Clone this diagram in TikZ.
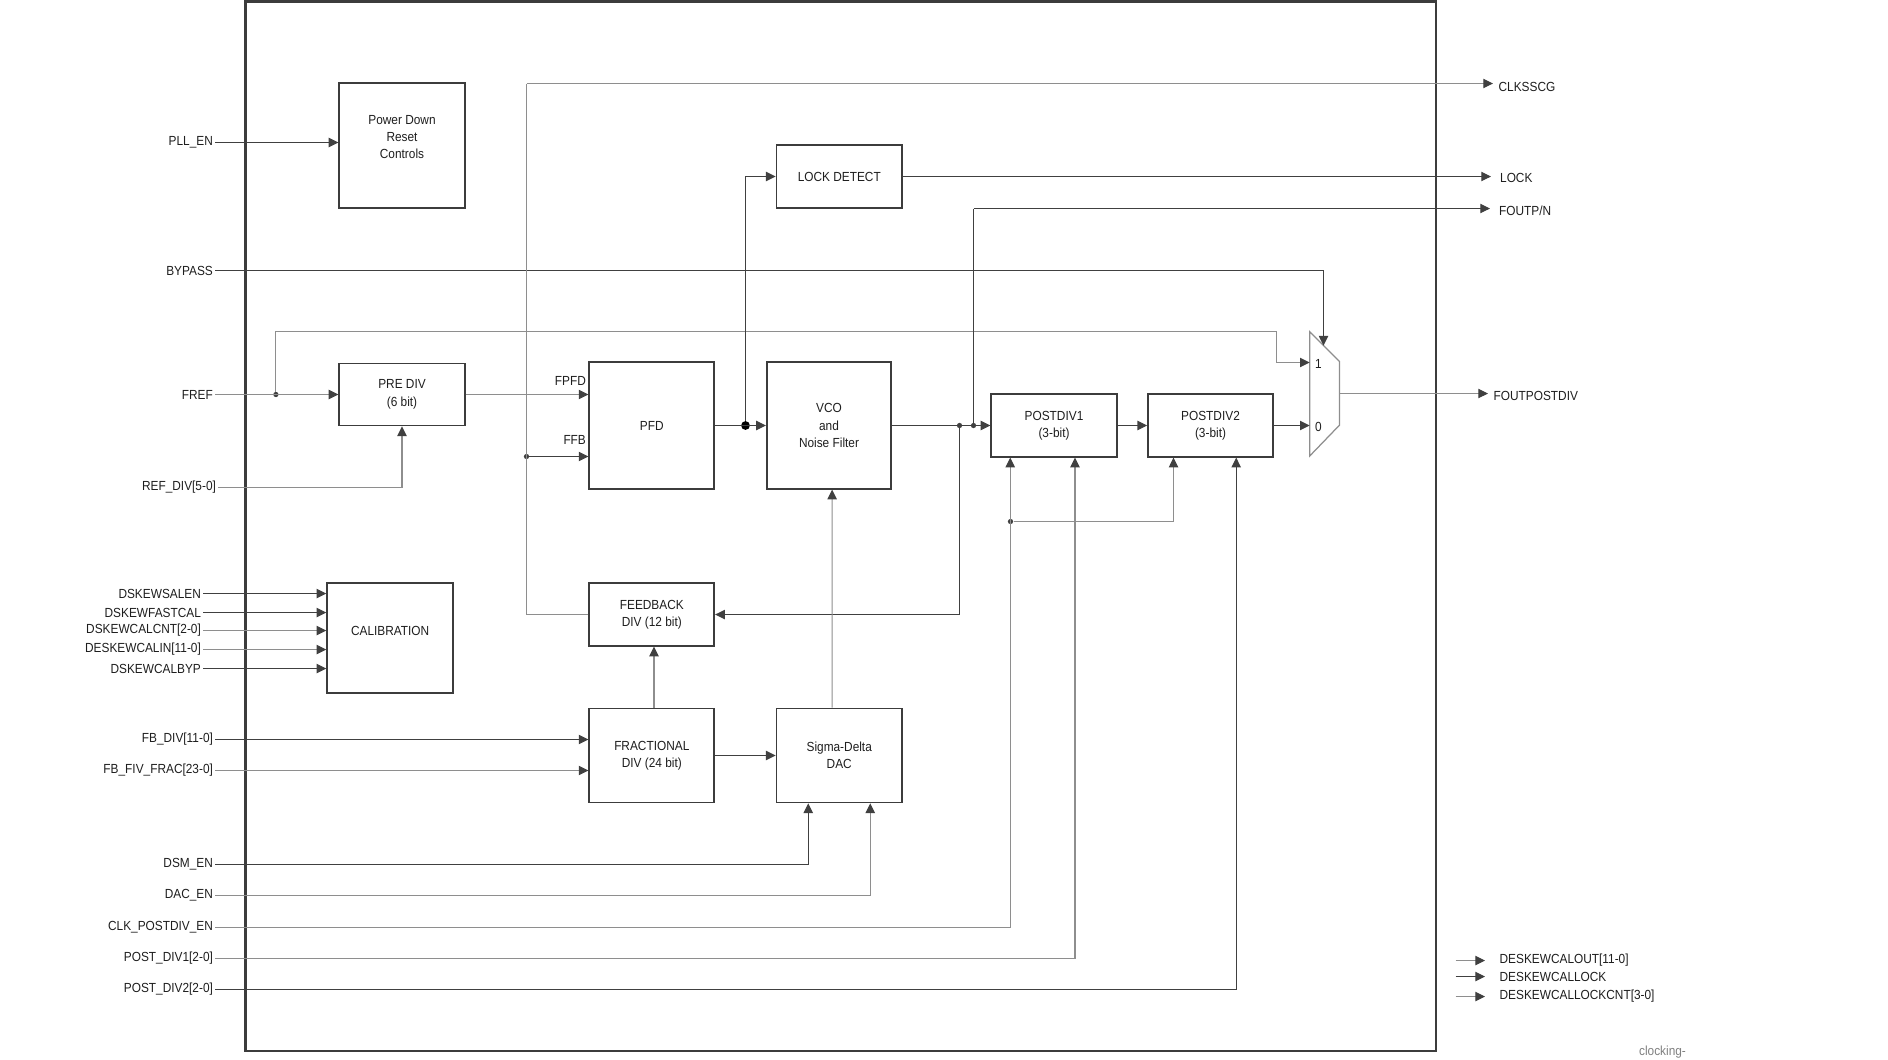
\documentclass[tikz,border=0pt]{standalone}
\usepackage{fontspec}
\setmainfont{Liberation Sans}[FakeStretch=0.9]
\usetikzlibrary{arrows.meta}
\definecolor{wiredk}{HTML}{404040}
\definecolor{wirelt}{HTML}{8E8E8E}
\definecolor{boxc}{HTML}{3C3C3C}
\definecolor{txtc}{HTML}{1E1E1E}
\tikzset{
  blk/.style={draw=boxc, line width=1pt, align=center, inner sep=0pt,
    font=\fontsize{7.5}{9.9}\selectfont, text=txtc},
  lbl/.style={font=\fontsize{7.5}{9.9}\selectfont, text=txtc, inner sep=1pt},
  outl/.style={lbl, inner xsep=3pt, anchor=west},
  wire/.style={draw=wiredk, line width=0.6pt},
  wirel/.style={draw=wirelt, line width=0.6pt},
  arr/.style={-{Triangle[length=5.5pt,width=5.3pt,color=wiredk]}},
  dot/.style={circle, fill=wiredk, inner sep=0pt, minimum size=3pt},
  bigdot/.style={circle, fill=black, inner sep=0pt, minimum size=5pt}
}
\begin{document}
\begin{tikzpicture}[x=0.02cm, y=-0.02cm]
\useasboundingbox (0,0) rectangle (1888,1059);
\draw[draw=boxc, line width=1.4pt] (245.5,1.5) rectangle (1436,1051); % outer frame

% blocks
\node[blk, minimum width=2.51cm, minimum height=2.49cm] (pwr) at (402,145.6) {};
\node[lbl, align=center] (pwrtxt) at ([yshift=0.17cm]pwr.center) {Power Down\\Reset\\Controls};
\node[blk, minimum width=2.51cm, minimum height=1.24cm] (prediv) at (402,394.5) {PRE DIV\\(6 bit)};
\node[blk, minimum width=2.5cm, minimum height=2.53cm] (pfd) at (651.8,425.5) {PFD};
\node[blk, minimum width=2.49cm, minimum height=2.53cm] (vco) at (829,425.5) {VCO\\and\\Noise Filter};
\node[blk, minimum width=2.51cm, minimum height=1.26cm] (lockdet) at (839.25,176.5) {LOCK DETECT};
\node[blk, minimum width=2.51cm, minimum height=1.25cm] (pd1) at (1054,425.5) {POSTDIV1\\(3-bit)};
\node[blk, minimum width=2.5cm, minimum height=1.25cm] (pd2) at (1210.5,425.5) {POSTDIV2\\(3-bit)};
\node[blk, minimum width=2.52cm, minimum height=2.2cm] (calib) at (390.15,638.3) {};
\node[lbl] (calibtxt) at ([yshift=0.15cm]calib.center) {CALIBRATION};
\node[blk, minimum width=2.5cm, minimum height=1.25cm] (fbdiv) at (651.8,614.5) {FEEDBACK\\DIV (12 bit)};
\node[blk, minimum width=2.5cm, minimum height=1.88cm] (fracdiv) at (651.8,755.5) {FRACTIONAL\\DIV (24 bit)};
\node[blk, minimum width=2.51cm, minimum height=1.88cm] (sddac) at (839.25,755.5) {Sigma-Delta\\DAC};

% mux
\draw[wirel, line width=0.7pt] (1309.7,331.6) -- (1339.5,361.4) -- (1339.5,425.1) -- (1309.7,456) -- cycle;
\coordinate (mux1) at (1309.7,362.5);
\coordinate (mux0) at (1309.7,425.5);
\coordinate (muxout) at (1339.5,393.5);
\coordinate (muxsel) at (1323.5,345.6);
\node[lbl, anchor=west] (muxin1) at (1313,363.5) {1};
\node[lbl, anchor=west] (muxin0) at (1313,426.5) {0};

% inputs
\node[lbl, anchor=east] (pllen) at (215,142.5) {PLL\_EN};
\node[lbl, anchor=east] (bypass) at (215,270.5) {BYPASS};
\node[lbl, anchor=east] (fref) at (215,394.5) {FREF};
\node[lbl, anchor=east] (refdiv) at (218,487.5) {REF\_DIV[5-0]};
\node[lbl, anchor=east] (dsalen) at (203,593.5) {DSKEWSALEN};
\node[lbl, anchor=east] (dfast) at (203,612.5) {DSKEWFASTCAL};
\node[lbl, anchor=east] (dcnt) at (203,630.5) {DSKEWCALCNT[2-0]};
\node[lbl, anchor=east] (dcalin) at (203,649.5) {DESKEWCALIN[11-0]};
\node[lbl, anchor=east] (dbyp) at (203,668.5) {DSKEWCALBYP};
\node[lbl, anchor=east] (fbdivin) at (215,739.5) {FB\_DIV[11-0]};
\node[lbl, anchor=east] (fbfrac) at (215,770.5) {FB\_FIV\_FRAC[23-0]};
\node[lbl, anchor=east] (dsmen) at (215,864.5) {DSM\_EN};
\node[lbl, anchor=east] (dacen) at (215,895.5) {DAC\_EN};
\node[lbl, anchor=east] (clkpden) at (215,927.5) {CLK\_POSTDIV\_EN};
\node[lbl, anchor=east] (postdiv1) at (215,958.5) {POST\_DIV1[2-0]};
\node[lbl, anchor=east] (postdiv2) at (215,989.5) {POST\_DIV2[2-0]};

% outputs
\node[outl] (clkout) at (1493,86.5) {CLKSSCG};
\node[outl, inner xsep=5pt] (lockout) at (1491,178) {LOCK};
\node[outl, inner xsep=5pt] (foutpn) at (1490,211) {FOUTP/N};
\node[outl] (foutpd) at (1488,395.5) {FOUTPOSTDIV};
\node[outl] (dcout) at (1494,960.5) {DESKEWCALOUT[11-0]};
\node[outl] (dclock) at (1494,976.5) {DESKEWCALLOCK};
\node[outl] (dclockcnt) at (1494,996.5) {DESKEWCALLOCKCNT[3-0]};
\node[lbl, anchor=base west, text=gray] (docid) at (1637,1055) {clocking-};

% junctions
\node[dot] (frefdot) at (275.9,394.5) {};
\node[dot] (ffbdot) at (526.5,456.5) {};
\node[bigdot] (lkdot) at (745.5,425.5) {};
\node[dot] (fbdot) at (959.5,425.5) {};
\node[dot] (foutdot) at (973.5,425.5) {};
\node[dot] (pddot) at (1010.5,521.5) {};
\coordinate (clktop) at (526.5,83.5);
\coordinate (foutup) at (973.5,208.5);

% connections
\draw[wire, arr] (pllen.east) -- (pllen.east -| pwr.west);
\draw[wire, arr] (bypass.east) -| (muxsel);
\draw[wirel, arr] (fref.east) -- (fref.east -| prediv.west);
\draw[wirel, arr] (frefdot) |- (1276.5,331.5) |- (mux1);
\draw[wirel, arr] (refdiv.east) -| (prediv.south);
\draw[wirel, arr] (prediv.east) -- (prediv.east -| pfd.west);
\node[lbl, anchor=south east] (fpfdlbl) at (588,387.5) {FPFD};
\draw[wire, arr] (ffbdot) -- (ffbdot -| pfd.west);
\node[lbl, anchor=south east] (ffblbl) at (588,447) {FFB};
\draw[wirel] (fbdiv.west) -| (clktop);
\draw[wirel, arr] (clktop) -- (clktop -| clkout.west);
\draw[wire, arr] (pfd.east) -- (vco.west);
\draw[wire, arr] (lkdot) |- (lockdet.west);
\draw[wire, arr] (lockdet.east) -- (lockdet.east -| lockout.west);
\draw[wire, arr] (vco.east |- pd1.west) -- (pd1.west);
\draw[wire] (foutdot) -- (foutup);
\draw[wire, arr] (foutup) -- (foutup -| foutpn.west);
\draw[wire, arr] (fbdot) |- (fbdiv.east);
\draw[wire, arr] (pd1.east) -- (pd2.west);
\draw[wire, arr] (pd2.east) -- (mux0);
\draw[wirel, arr] (muxout) -- (muxout -| foutpd.west);

\draw[wire, arr] (dsalen.east) -- (dsalen.east -| calib.west);
\draw[wire, arr] (dfast.east) -- (dfast.east -| calib.west);
\draw[wirel, arr] (dcnt.east) -- (dcnt.east -| calib.west);
\draw[wirel, arr] (dcalin.east) -- (dcalin.east -| calib.west);
\draw[wire, arr] (dbyp.east) -- (dbyp.east -| calib.west);

\draw[wire, arr] (fbdivin.east) -- (fbdivin.east -| fracdiv.west);
\draw[wirel, arr] (fbfrac.east) -- (fbfrac.east -| fracdiv.west);
\draw[wirel, arr] ([xshift=0.044cm]fracdiv.north) -- ([xshift=0.044cm]fbdiv.south);
\draw[wire, arr] (fracdiv.east) -- (sddac.west);
\draw[wirel, arr] ([xshift=-0.143cm]sddac.north) -- ([xshift=0.062cm]vco.south);

\draw[wire, arr] (dsmen.east) -| ([xshift=-0.62cm]sddac.south);
\draw[wirel, arr] (dacen.east) -| ([xshift=0.62cm]sddac.south);
\draw[wirel, arr] (clkpden.east) -| ([xshift=-0.876cm]pd1.south);
\draw[wirel, arr] (pddot) -| ([xshift=-0.74cm]pd2.south);
\draw[wirel, arr] (postdiv1.east) -| ([xshift=0.42cm]pd1.south);
\draw[wire, arr] (postdiv2.east) -| ([xshift=0.514cm]pd2.south);

% legend
\draw[wirel, arr] ([xshift=-0.77cm]dcout.west) -- ([xshift=-0.18cm]dcout.west);
\draw[wire, arr] ([xshift=-0.77cm]dclock.west) -- ([xshift=-0.18cm]dclock.west);
\draw[wirel, arr] ([xshift=-0.77cm]dclockcnt.west) -- ([xshift=-0.18cm]dclockcnt.west);
\end{tikzpicture}
\end{document}
